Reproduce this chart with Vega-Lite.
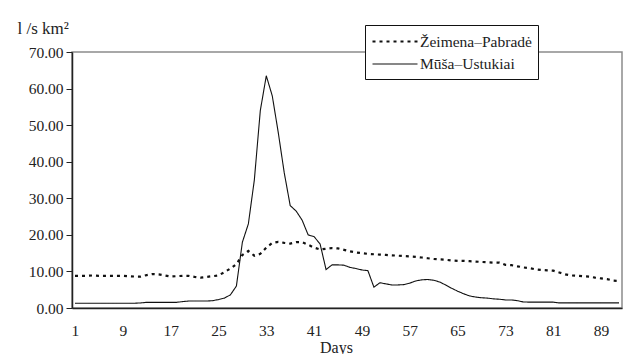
{
  "$schema": "https://vega.github.io/schema/vega-lite/v6.json",
  "width": 550,
  "height": 256,
  "autosize": {"type": "none"},
  "padding": {"left": 72, "top": 52, "right": 3, "bottom": 46},
  "background": "white",
  "config": {
    "view": {"stroke": "#8c8c8c", "strokeWidth": 1.5},
    "font": "Liberation Serif",
    "axis": {"labelFont": "Liberation Serif", "titleFont": "Liberation Serif"},
    "legend": {"labelFont": "Liberation Serif", "titleFont": "Liberation Serif"}
  },
  "data": {
    "values": [
      {"day": 1, "Žeimena–Pabradė": 8.8, "Mūša–Ustukiai": 1.3},
      {"day": 2, "Žeimena–Pabradė": 8.8, "Mūša–Ustukiai": 1.3},
      {"day": 3, "Žeimena–Pabradė": 8.8, "Mūša–Ustukiai": 1.3},
      {"day": 4, "Žeimena–Pabradė": 8.9, "Mūša–Ustukiai": 1.3},
      {"day": 5, "Žeimena–Pabradė": 8.8, "Mūša–Ustukiai": 1.3},
      {"day": 6, "Žeimena–Pabradė": 8.8, "Mūša–Ustukiai": 1.3},
      {"day": 7, "Žeimena–Pabradė": 8.8, "Mūša–Ustukiai": 1.3},
      {"day": 8, "Žeimena–Pabradė": 8.8, "Mūša–Ustukiai": 1.3},
      {"day": 9, "Žeimena–Pabradė": 8.8, "Mūša–Ustukiai": 1.3},
      {"day": 10, "Žeimena–Pabradė": 8.7, "Mūša–Ustukiai": 1.3},
      {"day": 11, "Žeimena–Pabradė": 8.6, "Mūša–Ustukiai": 1.3},
      {"day": 12, "Žeimena–Pabradė": 8.6, "Mūša–Ustukiai": 1.4},
      {"day": 13, "Žeimena–Pabradė": 9.0, "Mūša–Ustukiai": 1.55},
      {"day": 14, "Žeimena–Pabradė": 9.3, "Mūša–Ustukiai": 1.55},
      {"day": 15, "Žeimena–Pabradė": 9.2, "Mūša–Ustukiai": 1.55},
      {"day": 16, "Žeimena–Pabradė": 8.9, "Mūša–Ustukiai": 1.55},
      {"day": 17, "Žeimena–Pabradė": 8.6, "Mūša–Ustukiai": 1.55},
      {"day": 18, "Žeimena–Pabradė": 8.7, "Mūša–Ustukiai": 1.55},
      {"day": 19, "Žeimena–Pabradė": 8.8, "Mūša–Ustukiai": 1.75},
      {"day": 20, "Žeimena–Pabradė": 8.8, "Mūša–Ustukiai": 1.9},
      {"day": 21, "Žeimena–Pabradė": 8.5, "Mūša–Ustukiai": 1.9},
      {"day": 22, "Žeimena–Pabradė": 8.3, "Mūša–Ustukiai": 1.9},
      {"day": 23, "Žeimena–Pabradė": 8.5, "Mūša–Ustukiai": 1.9},
      {"day": 24, "Žeimena–Pabradė": 8.7, "Mūša–Ustukiai": 2.0},
      {"day": 25, "Žeimena–Pabradė": 8.9, "Mūša–Ustukiai": 2.3},
      {"day": 26, "Žeimena–Pabradė": 9.8, "Mūša–Ustukiai": 2.7},
      {"day": 27, "Žeimena–Pabradė": 10.8, "Mūša–Ustukiai": 3.6},
      {"day": 28, "Žeimena–Pabradė": 12.0, "Mūša–Ustukiai": 6.0},
      {"day": 29, "Žeimena–Pabradė": 14.5, "Mūša–Ustukiai": 18.0},
      {"day": 30, "Žeimena–Pabradė": 15.6, "Mūša–Ustukiai": 23.0},
      {"day": 31, "Žeimena–Pabradė": 14.3, "Mūša–Ustukiai": 35.0},
      {"day": 32, "Žeimena–Pabradė": 14.8, "Mūša–Ustukiai": 54.0},
      {"day": 33, "Žeimena–Pabradė": 16.5, "Mūša–Ustukiai": 63.5},
      {"day": 34, "Žeimena–Pabradė": 17.8, "Mūša–Ustukiai": 58.0},
      {"day": 35, "Žeimena–Pabradė": 18.1, "Mūša–Ustukiai": 48.0},
      {"day": 36, "Žeimena–Pabradė": 17.8, "Mūša–Ustukiai": 37.0},
      {"day": 37, "Žeimena–Pabradė": 17.6, "Mūša–Ustukiai": 28.0},
      {"day": 38, "Žeimena–Pabradė": 18.0, "Mūša–Ustukiai": 26.5},
      {"day": 39, "Žeimena–Pabradė": 18.0, "Mūša–Ustukiai": 24.0},
      {"day": 40, "Žeimena–Pabradė": 17.3, "Mūša–Ustukiai": 20.0},
      {"day": 41, "Žeimena–Pabradė": 16.5, "Mūša–Ustukiai": 19.5},
      {"day": 42, "Žeimena–Pabradė": 16.0, "Mūša–Ustukiai": 17.5},
      {"day": 43, "Žeimena–Pabradė": 16.2, "Mūša–Ustukiai": 10.5},
      {"day": 44, "Žeimena–Pabradė": 16.4, "Mūša–Ustukiai": 11.8},
      {"day": 45, "Žeimena–Pabradė": 16.3, "Mūša–Ustukiai": 11.8},
      {"day": 46, "Žeimena–Pabradė": 15.9, "Mūša–Ustukiai": 11.7},
      {"day": 47, "Žeimena–Pabradė": 15.5, "Mūša–Ustukiai": 11.1},
      {"day": 48, "Žeimena–Pabradė": 15.2, "Mūša–Ustukiai": 10.8},
      {"day": 49, "Žeimena–Pabradė": 15.0, "Mūša–Ustukiai": 10.4},
      {"day": 50, "Žeimena–Pabradė": 14.8, "Mūša–Ustukiai": 10.2},
      {"day": 51, "Žeimena–Pabradė": 14.7, "Mūša–Ustukiai": 5.7},
      {"day": 52, "Žeimena–Pabradė": 14.6, "Mūša–Ustukiai": 6.9},
      {"day": 53, "Žeimena–Pabradė": 14.5, "Mūša–Ustukiai": 6.6},
      {"day": 54, "Žeimena–Pabradė": 14.4, "Mūša–Ustukiai": 6.3},
      {"day": 55, "Žeimena–Pabradė": 14.3, "Mūša–Ustukiai": 6.3},
      {"day": 56, "Žeimena–Pabradė": 14.2, "Mūša–Ustukiai": 6.4},
      {"day": 57, "Žeimena–Pabradė": 14.1, "Mūša–Ustukiai": 6.8},
      {"day": 58, "Žeimena–Pabradė": 14.0, "Mūša–Ustukiai": 7.4},
      {"day": 59, "Žeimena–Pabradė": 13.8, "Mūša–Ustukiai": 7.7},
      {"day": 60, "Žeimena–Pabradė": 13.6, "Mūša–Ustukiai": 7.8},
      {"day": 61, "Žeimena–Pabradė": 13.4, "Mūša–Ustukiai": 7.6},
      {"day": 62, "Žeimena–Pabradė": 13.3, "Mūša–Ustukiai": 7.1},
      {"day": 63, "Žeimena–Pabradė": 13.2, "Mūša–Ustukiai": 6.3},
      {"day": 64, "Žeimena–Pabradė": 13.0, "Mūša–Ustukiai": 5.4},
      {"day": 65, "Žeimena–Pabradė": 12.9, "Mūša–Ustukiai": 4.6},
      {"day": 66, "Žeimena–Pabradė": 12.9, "Mūša–Ustukiai": 3.9},
      {"day": 67, "Žeimena–Pabradė": 12.8, "Mūša–Ustukiai": 3.3},
      {"day": 68, "Žeimena–Pabradė": 12.7, "Mūša–Ustukiai": 3.0},
      {"day": 69, "Žeimena–Pabradė": 12.6, "Mūša–Ustukiai": 2.8},
      {"day": 70, "Žeimena–Pabradė": 12.5, "Mūša–Ustukiai": 2.7},
      {"day": 71, "Žeimena–Pabradė": 12.4, "Mūša–Ustukiai": 2.5},
      {"day": 72, "Žeimena–Pabradė": 12.4, "Mūša–Ustukiai": 2.4},
      {"day": 73, "Žeimena–Pabradė": 11.8, "Mūša–Ustukiai": 2.2},
      {"day": 74, "Žeimena–Pabradė": 11.7, "Mūša–Ustukiai": 2.2},
      {"day": 75, "Žeimena–Pabradė": 11.4, "Mūša–Ustukiai": 2.0},
      {"day": 76, "Žeimena–Pabradė": 11.1, "Mūša–Ustukiai": 1.65},
      {"day": 77, "Žeimena–Pabradė": 10.9, "Mūša–Ustukiai": 1.6},
      {"day": 78, "Žeimena–Pabradė": 10.6, "Mūša–Ustukiai": 1.6},
      {"day": 79, "Žeimena–Pabradė": 10.4, "Mūša–Ustukiai": 1.6},
      {"day": 80, "Žeimena–Pabradė": 10.3, "Mūša–Ustukiai": 1.6},
      {"day": 81, "Žeimena–Pabradė": 10.2, "Mūša–Ustukiai": 1.6},
      {"day": 82, "Žeimena–Pabradė": 9.7, "Mūša–Ustukiai": 1.4},
      {"day": 83, "Žeimena–Pabradė": 9.2, "Mūša–Ustukiai": 1.4},
      {"day": 84, "Žeimena–Pabradė": 8.9, "Mūša–Ustukiai": 1.4},
      {"day": 85, "Žeimena–Pabradė": 8.8, "Mūša–Ustukiai": 1.4},
      {"day": 86, "Žeimena–Pabradė": 8.7, "Mūša–Ustukiai": 1.4},
      {"day": 87, "Žeimena–Pabradė": 8.6, "Mūša–Ustukiai": 1.4},
      {"day": 88, "Žeimena–Pabradė": 8.3, "Mūša–Ustukiai": 1.4},
      {"day": 89, "Žeimena–Pabradė": 8.1, "Mūša–Ustukiai": 1.4},
      {"day": 90, "Žeimena–Pabradė": 7.9, "Mūša–Ustukiai": 1.4},
      {"day": 91, "Žeimena–Pabradė": 7.5, "Mūša–Ustukiai": 1.4},
      {"day": 92, "Žeimena–Pabradė": 7.4, "Mūša–Ustukiai": 1.4}
    ]
  },
  "transform": [
    {"fold": ["Žeimena–Pabradė", "Mūša–Ustukiai"], "as": ["series", "value"]}
  ],
  "mark": {"type": "line", "color": "#111"},
  "encoding": {
    "x": {
      "field": "day",
      "type": "quantitative",
      "scale": {"domain": [0.5, 92.5], "nice": false, "zero": false},
      "axis": {
        "values": [1, 9, 17, 25, 33, 41, 49, 57, 65, 73, 81, 89],
        "title": "Days",
        "grid": false,
        "ticks": false,
        "labelPadding": 15,
        "labelFont": "Liberation Serif",
        "labelFontSize": 15.5,
        "labelColor": "#222",
        "domainColor": "#222",
        "domainWidth": 1.5,
        "titleFont": "Liberation Serif",
        "titleFontSize": 16,
        "titleFontWeight": "normal",
        "titleColor": "#222",
        "titleX": 264,
        "titleY": 44,
        "titleBaseline": "alphabetic",
        "titleAlign": "center"
      }
    },
    "y": {
      "field": "value",
      "type": "quantitative",
      "scale": {"domain": [0, 70], "nice": false},
      "axis": {
        "values": [0, 10, 20, 30, 40, 50, 60, 70],
        "format": ".2f",
        "grid": false,
        "tickSize": 6,
        "tickColor": "#222",
        "domainColor": "#222",
        "domainWidth": 1.5,
        "labelPadding": 3,
        "labelFont": "Liberation Serif",
        "labelFontSize": 15.5,
        "labelColor": "#222",
        "title": "l /s km²",
        "titleFont": "Liberation Serif",
        "titleAngle": 0,
        "titleAlign": "left",
        "titleBaseline": "alphabetic",
        "titleX": -55,
        "titleY": -19,
        "titleFontSize": 17,
        "titleFontWeight": "normal",
        "titleColor": "#222"
      }
    },
    "strokeDash": {
      "field": "series",
      "type": "nominal",
      "scale": {"domain": ["Žeimena–Pabradė", "Mūša–Ustukiai"], "range": [[3, 4], [1, 0]]},
      "legend": {
        "orient": "none",
        "legendX": 293,
        "legendY": -27,
        "title": null,
        "strokeColor": "#111",
        "fillColor": "white",
        "padding": 6,
        "rowPadding": 4,
        "symbolType": "M-1,0H4",
        "symbolSize": 324,
        "symbolStrokeColor": "#111",
        "labelFont": "Liberation Serif",
        "labelFontSize": 15.5,
        "labelColor": "#222",
        "labelOffset": 28
      }
    },
    "strokeWidth": {
      "field": "series",
      "type": "nominal",
      "scale": {"domain": ["Žeimena–Pabradė", "Mūša–Ustukiai"], "range": [2.2, 1.1]},
      "legend": {
        "orient": "none",
        "legendX": 293,
        "legendY": -27,
        "title": null,
        "strokeColor": "#111",
        "fillColor": "white",
        "padding": 6,
        "rowPadding": 4,
        "symbolType": "M-1,0H4",
        "symbolSize": 324,
        "symbolStrokeColor": "#111",
        "labelFont": "Liberation Serif",
        "labelFontSize": 15.5,
        "labelColor": "#222",
        "labelOffset": 28
      }
    }
  }
}
